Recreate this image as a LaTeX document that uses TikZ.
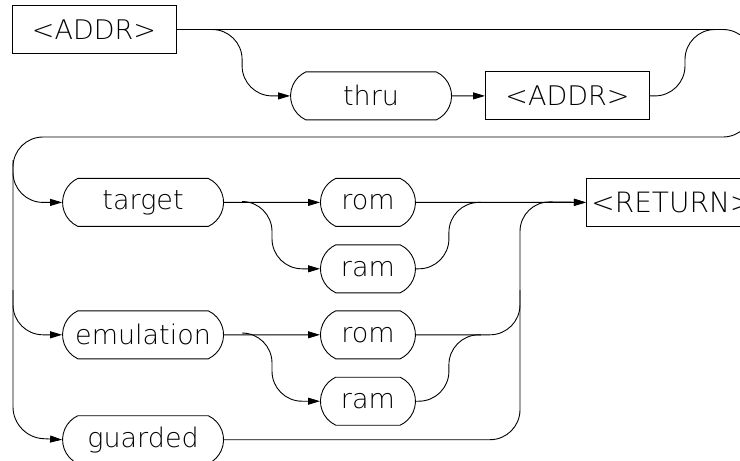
\documentclass[tikz,border=0pt]{standalone}
\usepackage{fontspec}
\setmainfont{DejaVu Sans}[UprightFont={* ExtraLight}]
\usepackage{tikz}
\usetikzlibrary{arrows.meta, shapes.misc, positioning, calc}

\begin{document}
\begin{tikzpicture}[
  x=1pt, y=1pt,
  box/.style={draw, rectangle, line width=0.9pt,
              minimum width=164pt, minimum height=48pt,
              font=\fontsize{27}{30}\selectfont},
  word/.style={draw, rounded rectangle, rounded rectangle arc length=130,
               line width=0.9pt, minimum width=165pt, minimum height=48pt,
               inner xsep=2pt, font=\fontsize{27}{30}\selectfont},
  mem/.style={word, minimum width=99pt},
  arrow/.style={-{Triangle[length=12pt, width=7pt]}, line width=0.9pt,
                rounded corners=30pt},
  line/.style={line width=0.9pt, rounded corners=30pt},
]
\useasboundingbox (0,0) rectangle (740,-461);
\clip (0,0) rectangle (740,-461);

%% Address range
\node[box] (addr) at (94,-29.5) {<ADDR>};
\node[word, below right=17.5pt and 129.3pt of addr] (thru) {thru};
\node[box, right=33pt of thru] (addrb) {<ADDR>};

%% Memory kinds
\node[word, below right=124pt and -98.7pt of addr] (target) {target};
\node[mem, right=96pt of target] (roma) {rom};
\node[mem, below=17.5pt of roma] (rama) {ram};
\node[word, below=83.5pt of target] (emul) {emulation};
\node[mem, right=96pt of emul] (romb) {rom};
\node[mem, below=17.5pt of romb] (ramb) {ram};
\node[word, below=56pt of emul] (guard) {guarded};

%% Return
\node[box, minimum width=0pt, inner xsep=5pt, right=170pt of roma,
      font=\fontsize{28}{30}\selectfont] (ret) {<RETURN>};

%% Junctions
\coordinate (fork1) at (210,-29.5);
\coordinate (up1)   at (685,-29.5);
\coordinate (join1) at (720,-29.5);
\coordinate (loopR) at (753,-137);
\coordinate (loopL) at (13,-437);
\coordinate (lt1)   at (13,-160);
\coordinate (lt2)   at (13,-290);
\coordinate (fork2) at (242,-201.5);
\coordinate (fork3) at (242,-333);
\coordinate (upb)   at (520,-290);
\coordinate (merge) at (520,-201.5);

%% Arrows
\draw[arrow] (addr.east) -| (loopR) -| (loopL) -- (guard.west);
\draw[arrow] (fork1) -| ($(thru.west)+(-48,0)$) -- (thru.west);
\draw[arrow] (thru) -- (addrb);
\draw[line] (addrb.east) -| (up1) -- (join1);

\draw[arrow] (lt1) |- (target.west);
\draw[arrow] (lt2) |- (emul.west);

\draw[arrow] (target) -- (roma);
\draw[arrow] (fork2) -| ($(rama.west)+(-48,0)$) -- (rama.west);
\draw[arrow] (roma) -- (ret);
\draw[line] (rama.east) -| ($(roma.east)+(33,0)$) -- ($(roma.east)+(65,0)$);

\draw[arrow] (emul) -- (romb);
\draw[arrow] (fork3) -| ($(ramb.west)+(-48,0)$) -- (ramb.west);
\draw[line] (romb.east) -| (upb);
\draw[line] (ramb.east) -| ($(romb.east)+(33,0)$) -- ($(romb.east)+(65,0)$);

\draw[arrow] (guard.east) -| (merge) -- (ret.west);

\end{tikzpicture}
\end{document}
